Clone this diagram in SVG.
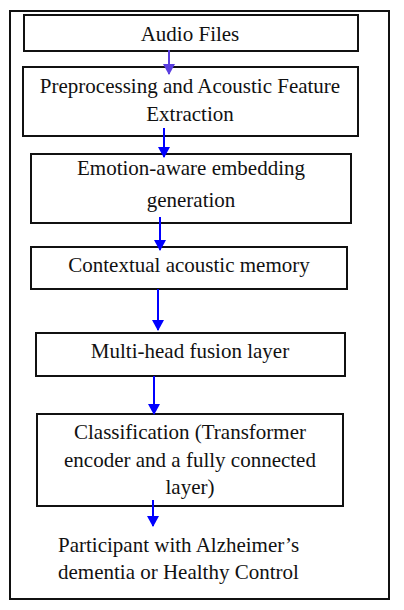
<svg xmlns="http://www.w3.org/2000/svg" width="404" height="610" viewBox="0 0 404 610">
<style>
.box{fill:#fff;stroke:#111;stroke-width:2}
text{font-family:'Liberation Serif','Times New Roman','DejaVu Serif',serif;font-size:21px;fill:#111}
.t{text-anchor:middle}
.c{stroke:#0000ff;stroke-width:2;fill:none}
</style>
<defs>
<marker id="ah" markerWidth="12" markerHeight="12" refX="10" refY="6" orient="auto" markerUnits="userSpaceOnUse">
<path d="M0,0 L11,6 L0,12 Z" fill="#0000ff"/>
</marker>
<marker id="ahp" markerWidth="12" markerHeight="12" refX="10" refY="6" orient="auto" markerUnits="userSpaceOnUse">
<path d="M0,0 L11,6 L0,12 Z" fill="#5a3ee0"/>
</marker>
</defs>
<rect x="0" y="0" width="404" height="610" fill="#fff"/>
<rect id="frame" x="10" y="11" width="379" height="588" fill="none" stroke="#111" stroke-width="2"/>
<g id="n1"><rect class="box" x="24" y="15" width="334" height="36"/><text class="t" x="190" y="41">Audio Files</text></g>
<g id="n2"><rect class="box" x="23" y="67" width="335" height="69"/><text class="t" x="190" y="93">Preprocessing and Acoustic Feature</text><text class="t" x="190" y="121">Extraction</text></g>
<g id="n3"><rect class="box" x="31" y="154" width="320" height="69"/><text class="t" x="191" y="175">Emotion-aware embedding</text><text class="t" x="191" y="207">generation</text></g>
<g id="n4"><rect class="box" x="31" y="247" width="316" height="42"/><text class="t" x="189" y="272">Contextual acoustic memory</text></g>
<g id="n5"><rect class="box" x="36" y="333" width="309" height="43"/><text class="t" x="190" y="358">Multi-head fusion layer</text></g>
<g id="n6"><rect class="box" x="37" y="414" width="306" height="92"/><text class="t" x="190" y="439">Classification (Transformer</text><text class="t" x="190" y="467">encoder and a fully connected</text><text class="t" x="190" y="494">layer)</text></g>
<g id="n7"><text x="58" y="552">Participant with Alzheimer’s</text><text x="58" y="579">dementia or Healthy Control</text></g>
<g id="connectors">
<line class="c" x1="169" y1="50" x2="169" y2="74" style="stroke:#5a3ee0" marker-end="url(#ahp)"/>
<line class="c" x1="164" y1="128" x2="164" y2="157" marker-end="url(#ah)"/>
<line class="c" x1="160" y1="217" x2="160" y2="250" marker-end="url(#ah)"/>
<line class="c" x1="158" y1="289" x2="158" y2="330" marker-end="url(#ah)"/>
<line class="c" x1="154" y1="376" x2="154" y2="414" marker-end="url(#ah)"/>
<line class="c" x1="153" y1="500" x2="153" y2="526" marker-end="url(#ah)"/>
</g>
</svg>
